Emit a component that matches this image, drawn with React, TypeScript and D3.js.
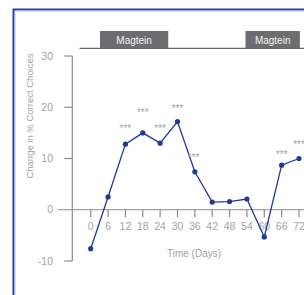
import React from 'react';
import * as d3 from 'd3';

// values
const days = [0, 6, 12, 18, 24, 30, 36, 42, 48, 54, 60, 66, 72];
const change = [-7.6, 2.5, 12.8, 15.0, 13.0, 17.2, 7.4, 1.5, 1.6, 2.1, -5.3, 8.7, 10.0];
const yTicks = [-10, 0, 10, 20, 30];
const starDays = [12, 18, 24, 30, 36, 66, 72];
const starLevels = [16.1, 19.2, 16.1, 20.0, 10.4, 11.0, 13.0];
const phaseLabels = ['Magtein', 'Magtein'];
const phaseStart = [3.2, 53.5];
const phaseEnd = [26.8, 72.3];

const W = 304;
const H = 295;
const FONT = '"Liberation Sans", Arial, sans-serif';
const GRAY = '#a3a3a3';
const AXIS = '#8a8a8a';
const BLUE = '#22399a';

export default function App() {
  const x = d3.scaleLinear().domain([0, 72]).range([90.7, 299]);
  const y = d3.scaleLinear().domain([-10, 30]).range([261, 56]);

  const pts = days.map((d, i) => ({ d, v: change[i] }));
  const line = d3.line<{ d: number; v: number }>()
    .x(p => x(p.d))
    .y(p => y(p.v));

  const axisX = 72.3;
  const zeroY = y(0);

  return (
    <svg width={W} height={H} style={{ position: 'absolute', left: 0, top: 0, background: '#fff' }}>
      {/* frame */}
      <path d={`M13.5,${H} V9.5 H${W}`} fill="none" stroke="#2c3c9c" strokeWidth={2} />
      <path d={`M15,${H} V11 H${W}`} fill="none" stroke="#b9c3ea" strokeWidth={1} />

      {/* treatment bars */}
      <line x1={79.5} x2={W} y1={48.3} y2={48.3} stroke="#6a6a6a" strokeWidth={1.2} />
      {phaseLabels.map((lab, i) => (
        <g key={i}>
          <rect x={x(phaseStart[i])} y={31} width={x(phaseEnd[i]) - x(phaseStart[i])} height={17}
            fill="#6d6d70" />
          <text x={(x(phaseStart[i]) + x(phaseEnd[i])) / 2} y={43.5} textAnchor="middle"
            fontFamily={FONT} fontSize={10} fill="#f2f2f2">{lab}</text>
        </g>
      ))}

      {/* y axis */}
      <line x1={axisX} x2={axisX} y1={y(30)} y2={y(-10)} stroke={AXIS} strokeWidth={1.2} />
      {yTicks.map(t => (
        <g key={t}>
          {t !== 0 && <line x1={axisX - 8} x2={axisX} y1={y(t)} y2={y(t)} stroke={AXIS} strokeWidth={1.2} />}
          <text x={53} y={y(t) + 3.5} textAnchor="end" fontFamily={FONT}
            fontSize={10.5} fill={GRAY}>{t}</text>
        </g>
      ))}
      <text transform={`translate(33,116) rotate(-90)`} textAnchor="middle" fontFamily={FONT}
        fontSize={9.5} fill={GRAY}>Change in % Correct Choices</text>

      {/* x axis at zero */}
      <line x1={57.5} x2={W} y1={zeroY} y2={zeroY} stroke={AXIS} strokeWidth={1.2} />
      {days.map(d => (
        <g key={d}>
          <line x1={x(d)} x2={x(d)} y1={zeroY} y2={zeroY + 7.5} stroke={AXIS} strokeWidth={1.2} />
          <text x={x(d)} y={zeroY + 20.5} textAnchor="middle" fontFamily={FONT}
            fontSize={10.5} fill={GRAY}>{d}</text>
        </g>
      ))}
      <text x={194} y={257} textAnchor="middle" fontFamily={FONT} fontSize={10} fill={GRAY}>Time (Days)</text>

      {/* series */}
      <path d={line(pts) ?? ''} fill="none" stroke={BLUE} strokeWidth={1.3} />
      {pts.map(p => (
        <circle key={p.d} cx={x(p.d)} cy={y(p.v)} r={2.6} fill={BLUE} />
      ))}

      {/* significance */}
      {starDays.map((d, i) => (
        <text key={d} x={x(d) - (d === 36 ? 1.5 : 0)} y={y(starLevels[i]) + 5} textAnchor="middle"
          fontFamily={FONT} fontSize={10} fill={GRAY}>***</text>
      ))}
    </svg>
  );
}
